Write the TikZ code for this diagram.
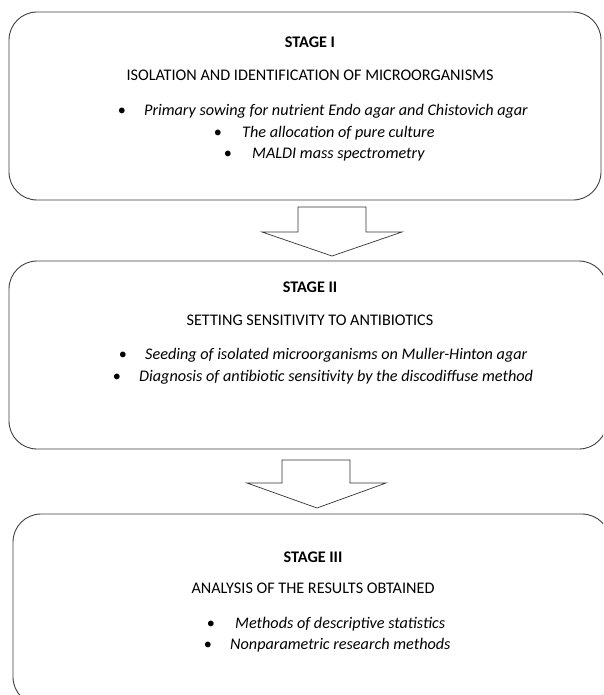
\documentclass[tikz,border=0pt]{standalone}
\usepackage{fontspec}
\setmainfont{Carlito}
\newcommand{\txtsize}{\fontsize{16.2}{19.5}\selectfont}
\begin{document}
\begin{tikzpicture}[x=1pt,y=-1pt,
  box/.style={draw=black!75, line width=0.9pt, rounded corners=28pt, minimum width=#1},
  blockarrow/.style={draw=black!80, line width=0.7pt, fill=white, line join=miter},
  head/.style={font=\txtsize\bfseries, anchor=base, inner sep=0pt},
  sub/.style={font=\txtsize, anchor=base, inner sep=0pt},
  item/.style={font=\txtsize\itshape, anchor=base west, inner sep=0pt},
  dot/.style={font=\txtsize, anchor=base, inner sep=0pt}]
\useasboundingbox (0,0) rectangle (603,695);
\fill[white] (0,0) rectangle (603,695);
\clip (0,0) rectangle (603,695);
% boxes
\node[box=592pt, minimum height=188pt] (s1) at (305,106) {};
\node[box=598pt, minimum height=188pt] (s2) at (308,355) {};
\node[box=597pt, minimum height=191pt] (s3) at (311.5,609.5) {};
% block arrows
\draw[blockarrow] (298,232) -- (298,207) -- (366,207) -- (366,232) -- (402,232) -- (332,256) -- (262,232) -- cycle;
\draw[blockarrow] (282,483) -- (282,460) -- (350,460) -- (350,483) -- (386,483) -- (317,508) -- (247,483) -- cycle;
% stage I
\node[head] (h1) at (310,48) {STAGE I};
\node[sub] (t1) at (310,81) {ISOLATION AND IDENTIFICATION OF MICROORGANISMS};
\node[dot] (b11) at (122,116) {•};
\node[item] (i11) at (144,116) {Primary sowing for nutrient Endo agar and Chistovich agar};
\node[dot] (b12) at (218,137.5) {•};
\node[item] (i12) at (242,137.5) {The allocation of pure culture};
\node[dot] (b13) at (228,159) {•};
\node[item] (i13) at (252,159) {MALDI mass spectrometry};
% stage II
\node[head] (h2) at (310,292) {STAGE II};
\node[sub] (t2) at (310,325) {SETTING SENSITIVITY TO ANTIBIOTICS};
\node[dot] (b21) at (123,359) {•};
\node[item] (i21) at (145,359) {Seeding of isolated microorganisms on Muller-Hinton agar};
\node[dot] (b22) at (117,381) {•};
\node[item] (i22) at (139,381) {Diagnosis of antibiotic sensitivity by the discodiffuse method};
% stage III
\node[head] (h3) at (313,562) {STAGE III};
\node[sub] (t3) at (313,593) {ANALYSIS OF THE RESULTS OBTAINED};
\node[dot] (b31) at (211,628) {•};
\node[item] (i31) at (235,628) {Methods of descriptive statistics};
\node[dot] (b32) at (208,649) {•};
\node[item] (i32) at (230,649) {Nonparametric research methods};
\end{tikzpicture}
\end{document}
